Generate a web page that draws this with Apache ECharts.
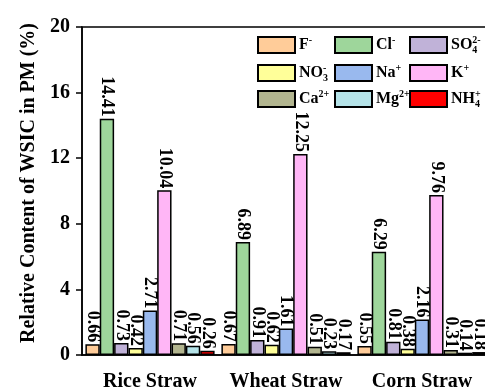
<!DOCTYPE html>
<html>
<head>
<meta charset="utf-8">
<script src="https://cdn.jsdelivr.net/npm/echarts@6/dist/echarts.min.js"></script>
<style>
  html, body { margin: 0; padding: 0; background: #fff; }
  #chart { width: 485px; height: 389px; }
</style>
</head>
<body>
<div id="chart"></div>
<script>
// Straw types burned
const categories = ['Rice Straw', 'Wheat Straw', 'Corn Straw'];

// Ion names in plotting order
const ions = ['F-', 'Cl-', 'SO42-', 'NO3-', 'Na+', 'K+', 'Ca2+', 'Mg2+', 'NH4+'];

// Relative content (%) of each ion for Rice, Wheat, Corn straw
const F_vals    = [0.66, 0.67, 0.55];
const Cl_vals   = [14.41, 6.89, 6.29];
const SO4_vals  = [0.73, 0.91, 0.81];
const NO3_vals  = [0.42, 0.62, 0.38];
const Na_vals   = [2.71, 1.61, 2.16];
const K_vals    = [10.04, 12.25, 9.76];
const Ca_vals   = [0.71, 0.51, 0.31];
const Mg_vals   = [0.56, 0.23, 0.14];
const NH4_vals  = [0.26, 0.17, 0.18];

const yTicks = [0, 4, 8, 12, 16, 20];

const seriesValues = [F_vals, Cl_vals, SO4_vals, NO3_vals, Na_vals, K_vals, Ca_vals, Mg_vals, NH4_vals];
const colors = ['#FFCC99', '#9ED69B', '#C0B2D8', '#FFFF99', '#99B9EE', '#FFB6F6', '#B2B58F', '#B5E3E8', '#FF0000'];

// Legend label markup; the subscript token is zero-width so the charge sits above it
const legendText = {
  'F-': '{b|F}{sup|-}',
  'Cl-': '{b|Cl}{sup|-}',
  'SO42-': '{b|SO}{subz|4}{sup|2-}',
  'NO3-': '{b|NO}{subz|3}{sup|-}',
  'Na+': '{b|Na}{sup|+}',
  'K+': '{b|K}{sup|+}',
  'Ca2+': '{b|Ca}{sup|2+}',
  'Mg2+': '{b|Mg}{sup|2+}',
  'NH4+': '{b|NH}{subz|4}{sup|+}'
};

const FONT = 'Liberation Serif';

const legendCols = [257, 334, 409];
const legendRows = [35, 63, 89];

const legends = ions.map((name, i) => ({
  data: [name],
  left: legendCols[i % 3],
  top: legendRows[Math.floor(i / 3)],
  padding: 0,
  itemWidth: 37,
  itemHeight: 16,
  itemGap: 4,
  icon: 'rect',
  selectedMode: false,
  formatter: () => legendText[name],
  textStyle: {
    fontFamily: FONT,
    padding: [0, 0, 0, -1],
    rich: {
      b: { fontFamily: FONT, fontWeight: 'bold', fontSize: 16, color: '#000', lineHeight: 20, verticalAlign: 'middle' },
      sup: { fontFamily: FONT, fontWeight: 'bold', fontSize: 10, color: '#000', lineHeight: 20, verticalAlign: 'top' },
      subz: { fontFamily: FONT, fontWeight: 'bold', fontSize: 10, color: '#000', lineHeight: 14, verticalAlign: 'bottom', width: 0.01 }
    }
  }
}));

const series = ions.map((name, i) => ({
  name: name,
  type: 'bar',
  data: seriesValues[i],
  barGap: '0%',
  barCategoryGap: '5%',
  itemStyle: { color: colors[i], borderColor: '#000', borderWidth: 1.5 },
  label: {
    show: true,
    position: 'top',
    rotate: -90,
    align: 'right',
    verticalAlign: 'middle',
    distance: 2,
    fontFamily: FONT,
    fontWeight: 'bold',
    fontSize: 18,
    color: '#000',
    formatter: p => p.value.toFixed(2)
  }
}));

const chart = echarts.init(document.getElementById('chart'), null, { renderer: 'canvas' });
chart.setOption({
  animation: false,
  backgroundColor: '#fff',
  grid: {
    left: 82, right: -5, top: 27, bottom: 34,
    outerBoundsMode: 'none',
    show: true, borderColor: '#000', borderWidth: 1.5, backgroundColor: 'transparent'
  },
  legend: legends,
  xAxis: {
    type: 'category',
    data: categories,
    axisLine: { lineStyle: { color: '#000', width: 1.5 } },
    axisTick: { alignWithLabel: true, length: 4, lineStyle: { color: '#000', width: 1.5 } },
    axisLabel: { interval: 0, hideOverlap: false, fontFamily: FONT, fontWeight: 'bold', fontSize: 20, color: '#000', margin: 17 }
  },
  yAxis: {
    type: 'value',
    min: yTicks[0],
    max: yTicks[yTicks.length - 1],
    interval: 4,
    name: 'Relative Content of WSIC in PM (%)',
    nameLocation: 'middle',
    nameGap: 40,
    nameTextStyle: { fontFamily: FONT, fontWeight: 'bold', fontSize: 20, color: '#000', padding: [0, 0, 0, 16] },
    splitLine: { show: false },
    axisLine: { show: true, lineStyle: { color: '#000', width: 1.5 } },
    axisTick: { show: true, length: 6, lineStyle: { color: '#000', width: 1.5 } },
    axisLabel: { fontFamily: FONT, fontWeight: 'bold', fontSize: 20, color: '#000', margin: 12 }
  },
  series: series
});
</script>
</body>
</html>
